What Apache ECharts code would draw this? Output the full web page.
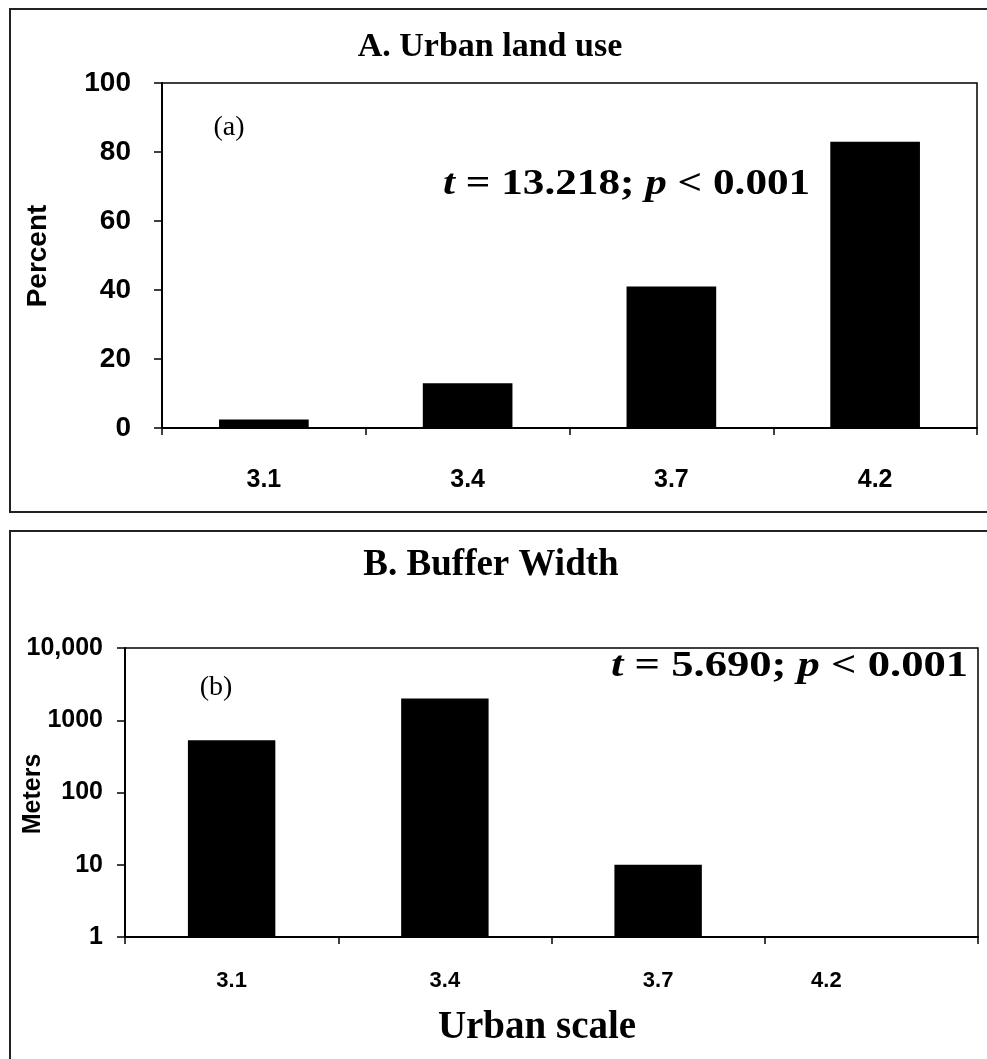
<!DOCTYPE html>
<html><head><meta charset="utf-8">
<script src="https://cdn.jsdelivr.net/npm/echarts@6/dist/echarts.min.js"></script>
<style>html,body{margin:0;padding:0;background:#fff}#c{width:987px;height:1059px}</style>
</head><body><div id="c"></div>
<script>
// ---- data ----
const categories = ['3.1', '3.4', '3.7', '4.2'];
const urbanLandUsePercent = [2.5, 13, 41, 83];
const bufferWidthMeters = [530, 2000, 10, 1];
const titleA = 'A. Urban land use';
const titleB = 'B. Buffer Width';
const statA = ['13.218', '0.001'];
const statB = ['5.690', '0.001'];

const SERIF = "'Liberation Serif','Times New Roman',serif";
const SANS = "'Liberation Sans',Arial,sans-serif";

const chart = echarts.init(document.getElementById('c'), null, {renderer: 'canvas'});

function statRich(s) {
  return {
    text: '{i|t}{n| = ' + s[0] + '; }{i|p}{n| < ' + s[1] + '}',
    rich: {
      i: {fontFamily: SERIF, fontStyle: 'italic', fontWeight: 'bold', fontSize: 36, fill: '#000'},
      n: {fontFamily: SERIF, fontWeight: 'bold', fontSize: 36, fill: '#000'}
    }
  };
}

const option = {
  backgroundColor: '#fff',
  animation: false,
  grid: [
    {left: 162, right: 10, top: 83, bottom: 1059 - 428, show: true, borderColor: '#000', borderWidth: 1.5, backgroundColor: 'transparent'},
    {left: 125, right: 9, top: 648, bottom: 1059 - 937, show: true, borderColor: '#000', borderWidth: 1.5, backgroundColor: 'transparent'}
  ],
  xAxis: [
    {type: 'category', gridIndex: 0, data: categories, boundaryGap: true,
     axisLine: {lineStyle: {color: '#000', width: 2}},
     axisTick: {show: true, inside: false, length: 7, lineStyle: {color: '#000', width: 1.5}},
     axisLabel: {margin: 40, color: '#000', fontFamily: SANS, fontWeight: 'bold', fontSize: 25}},
    {type: 'category', gridIndex: 1, data: categories, boundaryGap: true,
     axisLine: {lineStyle: {color: '#000', width: 2}},
     axisTick: {show: true, inside: false, length: 7, lineStyle: {color: '#000', width: 1.5}},
     axisLabel: {margin: 33, color: '#000', fontFamily: SANS, fontWeight: 'bold', fontSize: 22,
       formatter: function (v, i) { return i === 3 ? '{s|' + v + '}' : v; },
       rich: {s: {fontFamily: SANS, fontWeight: 'bold', fontSize: 22, color: '#000', padding: [0, 90, 0, 0]}}}}
  ],
  yAxis: [
    {type: 'value', gridIndex: 0, min: 0, max: 100, interval: 20,
     splitLine: {show: false},
     axisLine: {show: true, lineStyle: {color: '#000', width: 2}},
     axisTick: {show: true, inside: false, length: 8, lineStyle: {color: '#000', width: 1.5}},
     axisLabel: {margin: 31, color: '#000', fontFamily: SANS, fontWeight: 'bold', fontSize: 28}},
    {type: 'log', gridIndex: 1, logBase: 10, min: 1, max: 10000,
     splitLine: {show: false},
     axisLine: {show: true, lineStyle: {color: '#000', width: 2}},
     axisTick: {show: true, inside: false, length: 8, lineStyle: {color: '#000', width: 1.5}},
     minorTick: {show: false},
     axisLabel: {margin: 22, color: '#000', fontFamily: SANS, fontWeight: 'bold', fontSize: 25,
       formatter: function (v) { return v >= 10000 ? '10,000' : String(Math.round(v)); }}}
  ],
  series: [
    {type: 'bar', xAxisIndex: 0, yAxisIndex: 0, data: urbanLandUsePercent, barWidth: '44%',
     itemStyle: {color: '#000'}, silent: true},
    {type: 'bar', xAxisIndex: 1, yAxisIndex: 1, data: bufferWidthMeters, barWidth: '41%',
     itemStyle: {color: '#000'}, silent: true}
  ],
  graphic: [
    {type: 'rect', shape: {x: 10, y: 9, width: 1000, height: 503}, style: {fill: 'none', stroke: '#222', lineWidth: 2}, silent: true},
    {type: 'rect', shape: {x: 10, y: 531, width: 1000, height: 560}, style: {fill: 'none', stroke: '#222', lineWidth: 2}, silent: true},
    {type: 'text', style: {x: 490, y: 47, text: titleA, textAlign: 'center', textVerticalAlign: 'middle', fontFamily: SERIF, fontWeight: 'bold', fontSize: 34, fill: '#000'}},
    {type: 'text', style: {x: 491, y: 565, text: titleB, textAlign: 'center', textVerticalAlign: 'middle', fontFamily: SERIF, fontWeight: 'bold', fontSize: 37, fill: '#000'}},
    {type: 'text', style: {x: 229, y: 128, text: '(a)', textAlign: 'center', textVerticalAlign: 'middle', fontFamily: SERIF, fontSize: 28, fill: '#000'}},
    {type: 'text', style: {x: 216, y: 688, text: '(b)', textAlign: 'center', textVerticalAlign: 'middle', fontFamily: SERIF, fontSize: 28, fill: '#000'}},
    {type: 'text', x: 443, y: 185, scaleX: 1.2, style: Object.assign({x: 0, y: 0, textAlign: 'left', textVerticalAlign: 'middle'}, statRich(statA))},
    {type: 'text', x: 611, y: 667, scaleX: 1.24, style: Object.assign({x: 0, y: 0, textAlign: 'left', textVerticalAlign: 'middle'}, statRich(statB))},
    {type: 'text', rotation: Math.PI / 2, x: 38, y: 256, style: {x: 0, y: 0, text: 'Percent', textAlign: 'center', textVerticalAlign: 'middle', fontFamily: SANS, fontWeight: 'bold', fontSize: 28, fill: '#000'}},
    {type: 'text', rotation: Math.PI / 2, x: 33, y: 794, style: {x: 0, y: 0, text: 'Meters', textAlign: 'center', textVerticalAlign: 'middle', fontFamily: SANS, fontWeight: 'bold', fontSize: 25, fill: '#000'}},
    {type: 'text', style: {x: 537, y: 1028, text: 'Urban scale', textAlign: 'center', textVerticalAlign: 'middle', fontFamily: SERIF, fontWeight: 'bold', fontSize: 39, fill: '#000'}}
  ]
};
chart.setOption(option);
</script>
</body></html>
